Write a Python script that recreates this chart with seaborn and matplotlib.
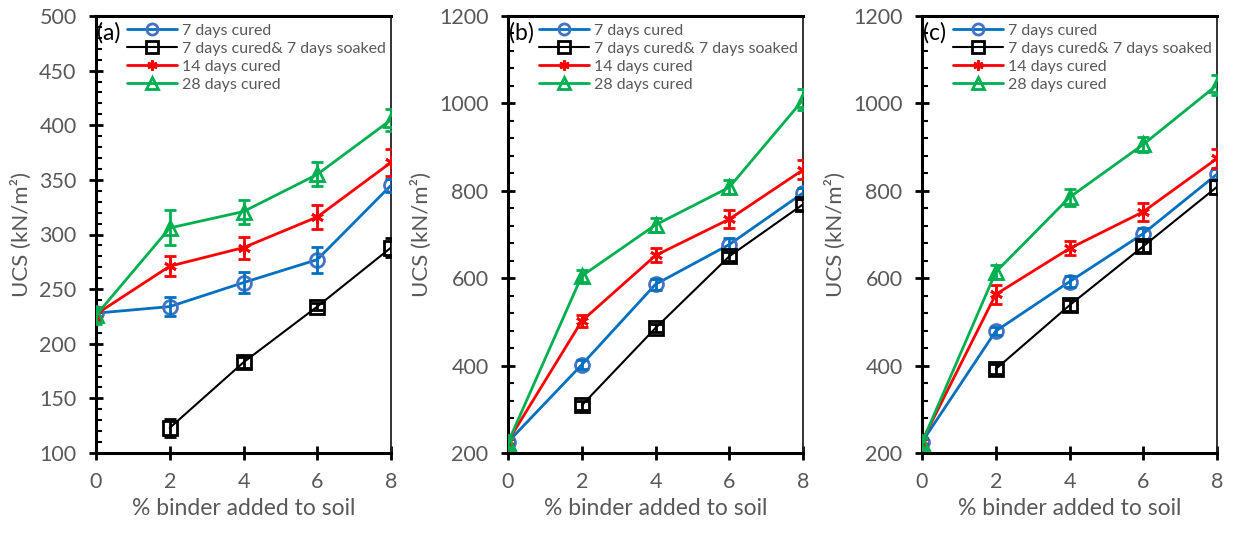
import numpy as np
import pandas as pd
import matplotlib
matplotlib.use("Agg")
import matplotlib.pyplot as plt
from matplotlib.ticker import MultipleLocator
import seaborn as sns

# ---------------- data ----------------
binder = [0, 2, 4, 6, 8]
series_names = ["7 days cured", "7 days cured& 7 days soaked", "14 days cured", "28 days cured"]

# panel (a)
a_7d = [228, 234, 256, 277, 345]
a_7d_err = [4, 9, 10, 12, 6]
a_soak = [np.nan, 123, 183, 234, 288]
a_soak_err = [np.nan, 8, 5, 3, 9]
a_14d = [227, 271, 288, 316, 366]
a_14d_err = [4, 9, 10, 11, 12]
a_28d = [226, 306, 321, 355, 405]
a_28d_err = [8, 16, 11, 11, 10]

# panel (b)
b_7d = [225, 402, 586, 677, 795]
b_7d_err = [8, 10, 12, 14, 12]
b_soak = [np.nan, 309, 486, 650, 769]
b_soak_err = [np.nan, 10, 10, 10, 12]
b_14d = [227, 502, 652, 735, 848]
b_14d_err = [8, 14, 16, 20, 22]
b_28d = [224, 605, 722, 808, 1008]
b_28d_err = [10, 14, 16, 16, 24]

# panel (c)
c_7d = [225, 479, 592, 702, 838]
c_7d_err = [8, 10, 12, 14, 12]
c_soak = [np.nan, 392, 538, 673, 809]
c_soak_err = [np.nan, 12, 12, 12, 16]
c_14d = [227, 563, 668, 752, 874]
c_14d_err = [8, 22, 16, 20, 22]
c_28d = [224, 614, 785, 906, 1042]
c_28d_err = [10, 16, 20, 18, 22]

panel_labels = ["(a)", "(b)", "(c)"]
y_limits = [(100, 500), (200, 1200), (200, 1200)]
y_major = [50, 200, 200]
y_minor = [10, 40, 40]

panels = [
    [(a_7d, a_7d_err), (a_soak, a_soak_err), (a_14d, a_14d_err), (a_28d, a_28d_err)],
    [(b_7d, b_7d_err), (b_soak, b_soak_err), (b_14d, b_14d_err), (b_28d, b_28d_err)],
    [(c_7d, c_7d_err), (c_soak, c_soak_err), (c_14d, c_14d_err), (c_28d, c_28d_err)],
]

# ---------------- style ----------------
sns.set_theme(style="white")
plt.rcParams['font.family'] = ['Lato', 'DejaVu Sans']

line_colors = ["#0070C0", "#000000", "#FF0000", "#00B050"]
marker_colors = ["#4472C4", "#000000", "#FF0000", "#00B050"]
markers = ["o", "s", (6, 2, 0), "^"]
marker_sizes = [10, 10, 9, 10]
line_widths = [2.0, 1.5, 2.0, 2.0]
gray = "#595959"

fig = plt.figure(figsize=(12.33, 5.39), dpi=100)
lefts = [96, 508, 922]
W, H = 1233, 539
axes = [fig.add_axes([l / W, 86 / H, 295 / W, 437 / H]) for l in lefts]

for ax, data, lab, ylim, ymaj, ymin in zip(axes, panels, panel_labels, y_limits, y_major, y_minor):
    for i, (vals, errs) in enumerate(data):
        df = pd.DataFrame({"binder": binder, "ucs": vals, "err": errs}).dropna()
        sns.lineplot(data=df, x="binder", y="ucs", ax=ax, color=line_colors[i],
                     linewidth=line_widths[i], marker=markers[i],
                     markersize=marker_sizes[i],
                     markerfacecolor="none", markeredgecolor=marker_colors[i],
                     markeredgewidth=2.0, label=series_names[i], zorder=3 + i)
        ax.errorbar(df["binder"], df["ucs"], yerr=df["err"], fmt="none",
                    ecolor=line_colors[i], elinewidth=2.0, capsize=4, capthick=2.0, zorder=3 + i)

    ax.set_xlim(0, 8)
    ax.set_ylim(*ylim)
    ax.xaxis.set_major_locator(MultipleLocator(2))
    ax.yaxis.set_major_locator(MultipleLocator(ymaj))
    ax.yaxis.set_minor_locator(MultipleLocator(ymin))
    ax.tick_params(axis="x", which="major", direction="inout", length=10, width=2,
                   colors="black", labelcolor=gray, labelsize=15.5, pad=9, bottom=True)
    ax.tick_params(axis="y", which="major", direction="inout", length=10, width=2,
                   colors="black", labelcolor=gray, labelsize=15.5, pad=9, left=True)
    ax.tick_params(axis="y", which="minor", direction="in", length=4.5, width=1.5,
                   colors="black", left=True)

    for side in ["left", "bottom", "top"]:
        ax.spines[side].set_linewidth(2.2)
        ax.spines[side].set_color("black")
    ax.spines["right"].set_linewidth(1.3)
    ax.spines["right"].set_color("#222222")

    ax.set_xlabel("% binder added to soil", color=gray, fontsize=16.5, labelpad=4)
    ax.set_ylabel("UCS (kN/m²)", color=gray, fontsize=16, labelpad=5)

    ax.text(0.004, 0.985, lab, transform=ax.transAxes, fontsize=16.5, color="black",
            ha="left", va="top")

    leg = ax.legend(loc="upper left", bbox_to_anchor=(0.07, 1.007), frameon=False,
                    fontsize=11.5, handlelength=3.1, handletextpad=0.35, labelspacing=0.25,
                    markerscale=0.8, borderaxespad=0.25)
    for t in leg.get_texts():
        t.set_color(gray)

fig.savefig("out.png", dpi=100)
